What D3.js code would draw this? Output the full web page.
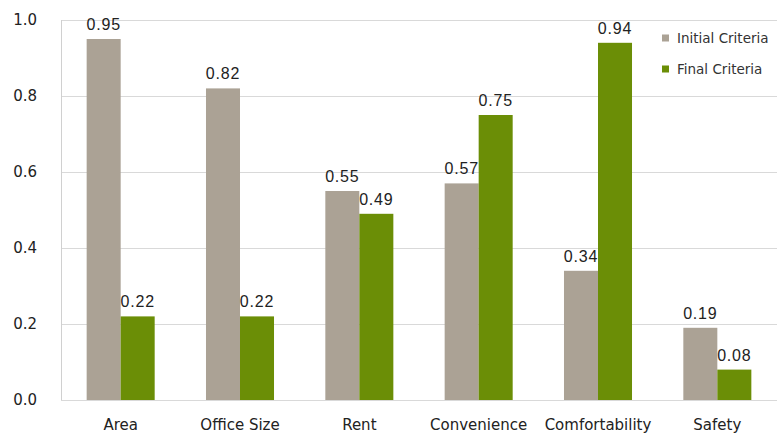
<!DOCTYPE html>
<html><head><meta charset="utf-8">
<script src="https://cdn.jsdelivr.net/npm/d3@7"></script>
<style>body{margin:0;background:#fff}</style>
</head><body>
<script>
const categories = ["Area","Office Size","Rent","Convenience","Comfortability","Safety"];
const seriesNames = ["Initial Criteria","Final Criteria"];
const initialValues = [0.95,0.82,0.55,0.57,0.34,0.19];
const finalValues = [0.22,0.22,0.49,0.75,0.94,0.08];
const yTicks = [0,0.2,0.4,0.6,0.8,1.0];
const colors = ["#aba295","#6b8e06"];

(function(){
const W=782,H=435;
const svg=d3.select("body").append("svg").attr("width",W).attr("height",H);
const pL=61,pR=777,pT=20,pB=400;
const y=d3.scaleLinear().domain([0,1]).range([pB,pT]);
const x0=d3.scaleBand().domain(categories).range([pL,pR]).paddingInner(0.43).paddingOuter(0.215);
const x1=d3.scaleBand().domain(seriesNames).range([0,x0.bandwidth()]);

svg.append("g").selectAll("line").data(yTicks).join("line")
  .attr("x1",pL).attr("x2",pR).attr("y1",d=>Math.round(y(d))+0.5).attr("y2",d=>Math.round(y(d))+0.5)
  .attr("stroke","#d9d9d9").attr("stroke-width",1);
svg.append("line").attr("x1",pL+0.5).attr("x2",pL+0.5).attr("y1",pT).attr("y2",pB)
  .attr("stroke","#d0d0d0");

const yAxis=d3.axisLeft(y).tickValues(yTicks).tickFormat(d3.format(".1f")).tickSize(0).tickPadding(24);
const ga=svg.append("g").attr("transform",`translate(${pL},0)`).call(yAxis);
ga.select(".domain").remove();
ga.selectAll("text").attr("font-family","DejaVu Sans, Verdana, sans-serif").attr("font-size",15).attr("fill","#222");

const xAxis=d3.axisBottom(x0).tickSize(0).tickPadding(19);
const gx=svg.append("g").attr("transform",`translate(0,${pB})`).call(xAxis);
gx.select(".domain").remove();
gx.selectAll("text").attr("font-family","DejaVu Sans, Verdana, sans-serif").attr("font-size",15).attr("fill","#222");

const data=categories.map((c,i)=>({cat:c,vals:[initialValues[i],finalValues[i]]}));
const g=svg.append("g").selectAll("g").data(data).join("g").attr("transform",d=>`translate(${x0(d.cat)},0)`);
g.selectAll("rect").data(d=>d.vals.map((v,j)=>({v,s:seriesNames[j],j}))).join("rect")
  .attr("x",d=>x1(d.s)).attr("width",x1.bandwidth()).attr("y",d=>y(d.v)).attr("height",d=>pB-y(d.v))
  .attr("fill",d=>colors[d.j]);
g.selectAll("text").data(d=>d.vals.map((v,j)=>({v,s:seriesNames[j],j}))).join("text")
  .attr("x",d=>x1(d.s)+x1.bandwidth()/2).attr("y",d=>y(d.v)-9).attr("text-anchor","middle")
  .attr("font-family","Liberation Sans, Arial, sans-serif").attr("font-size",16).attr("letter-spacing",0.8).attr("fill","#222")
  .text(d=>d3.format(".2f")(d.v));

const lg=svg.append("g").selectAll("g").data(seriesNames).join("g")
  .attr("transform",(d,i)=>`translate(662,${38+i*31})`);
lg.append("rect").attr("x",0).attr("y",-3.5).attr("width",7).attr("height",7).attr("fill",(d,i)=>colors[i]);
lg.append("text").attr("x",15).attr("y",0).attr("dy","0.35em").attr("font-family","DejaVu Sans, Tahoma, sans-serif")
  .attr("font-size",13.5).attr("fill","#333").text(d=>d);
})();
</script>
</body></html>
